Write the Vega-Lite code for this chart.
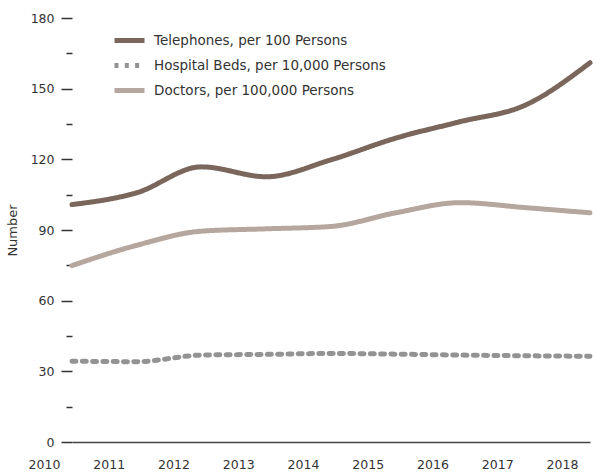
{
  "$schema": "https://vega.github.io/schema/vega-lite/v6.json",
  "width": 518,
  "height": 424,
  "autosize": "none",
  "padding": {"left": 72, "top": 18, "right": 6, "bottom": 34},
  "background": "white",
  "config": {
    "view": {"stroke": null},
    "font": "DejaVu Sans",
    "axis": {"labelFont": "DejaVu Sans", "titleFont": "DejaVu Sans", "labelColor": "#333333", "titleColor": "#333333"},
    "legend": {"labelFont": "DejaVu Sans"}
  },
  "data": {
    "values": [
      {"year": 2010, "series": "Telephones, per 100 Persons", "value": 100.8},
      {"year": 2011, "series": "Telephones, per 100 Persons", "value": 105.8},
      {"year": 2012, "series": "Telephones, per 100 Persons", "value": 116.8},
      {"year": 2013, "series": "Telephones, per 100 Persons", "value": 112.6},
      {"year": 2014, "series": "Telephones, per 100 Persons", "value": 119.8},
      {"year": 2015, "series": "Telephones, per 100 Persons", "value": 129},
      {"year": 2016, "series": "Telephones, per 100 Persons", "value": 136},
      {"year": 2017, "series": "Telephones, per 100 Persons", "value": 143},
      {"year": 2018, "series": "Telephones, per 100 Persons", "value": 161},
      {"year": 2010, "series": "Hospital Beds, per 10,000 Persons", "value": 34.3},
      {"year": 2011, "series": "Hospital Beds, per 10,000 Persons", "value": 34.1},
      {"year": 2012, "series": "Hospital Beds, per 10,000 Persons", "value": 36.9},
      {"year": 2013, "series": "Hospital Beds, per 10,000 Persons", "value": 37.2},
      {"year": 2014, "series": "Hospital Beds, per 10,000 Persons", "value": 37.6},
      {"year": 2015, "series": "Hospital Beds, per 10,000 Persons", "value": 37.3},
      {"year": 2016, "series": "Hospital Beds, per 10,000 Persons", "value": 36.9},
      {"year": 2017, "series": "Hospital Beds, per 10,000 Persons", "value": 36.6},
      {"year": 2018, "series": "Hospital Beds, per 10,000 Persons", "value": 36.4},
      {"year": 2010, "series": "Doctors, per 100,000 Persons", "value": 74.9},
      {"year": 2011, "series": "Doctors, per 100,000 Persons", "value": 83.5},
      {"year": 2012, "series": "Doctors, per 100,000 Persons", "value": 89.5},
      {"year": 2013, "series": "Doctors, per 100,000 Persons", "value": 90.5},
      {"year": 2014, "series": "Doctors, per 100,000 Persons", "value": 91.5},
      {"year": 2015, "series": "Doctors, per 100,000 Persons", "value": 97.3},
      {"year": 2016, "series": "Doctors, per 100,000 Persons", "value": 101.6},
      {"year": 2017, "series": "Doctors, per 100,000 Persons", "value": 99.5},
      {"year": 2018, "series": "Doctors, per 100,000 Persons", "value": 97.3}
    ]
  },
  "mark": {"type": "line", "interpolate": "monotone", "strokeWidth": 5, "strokeCap": "round"},
  "encoding": {
    "x": {
      "field": "year", "type": "quantitative",
      "scale": {"domain": [2010, 2018], "nice": false, "zero": false},
      "axis": {
        "title": null, "values": [2010, 2011, 2012, 2013, 2014, 2015, 2016, 2017, 2018],
        "format": "d", "grid": false, "ticks": false,
        "domainColor": "#444444", "domainWidth": 1.5,
        "labelFontSize": 12.5, "labelPadding": 16, "labelFlush": false, "labelOffset": -28, "labelBound": false
      }
    },
    "y": {
      "field": "value", "type": "quantitative",
      "scale": {"domain": [0, 180], "nice": false},
      "axis": {
        "title": "Number", "titleFontSize": 13, "titleFontWeight": "normal", "titlePadding": 11,
        "values": [0, 15, 30, 45, 60, 75, 90, 105, 120, 135, 150, 165, 180],
        "labelExpr": "datum.value % 30 === 0 ? datum.label : ''",
        "grid": false, "domain": false,
        "tickColor": "#333333", "tickWidth": 1.5,
        "tickSize": {"condition": {"test": "datum.value % 30 === 0", "value": 11}, "value": 6},
        "labelPadding": 7, "labelFontSize": 12.5
      }
    },
    "color": {
      "field": "series", "type": "nominal",
      "sort": ["Telephones, per 100 Persons", "Hospital Beds, per 10,000 Persons", "Doctors, per 100,000 Persons"],
      "scale": {
        "domain": ["Telephones, per 100 Persons", "Hospital Beds, per 10,000 Persons", "Doctors, per 100,000 Persons"],
        "range": ["#7b665c", "#939393", "#b6a79e"]
      },
      "legend": {
        "title": null, "orient": "none", "legendX": 43, "legendY": 8,
        "symbolType": "M-1.25,0H1.25", "symbolSize": 576, "symbolStrokeWidth": 5,
        "labelFontSize": 13.5, "labelColor": "#333333", "labelOffset": 10, "rowPadding": 0, "labelLimit": 400
      }
    },
    "strokeDash": {
      "field": "series", "type": "nominal",
      "sort": ["Telephones, per 100 Persons", "Hospital Beds, per 10,000 Persons", "Doctors, per 100,000 Persons"],
      "scale": {
        "domain": ["Telephones, per 100 Persons", "Hospital Beds, per 10,000 Persons", "Doctors, per 100,000 Persons"],
        "range": [[1, 0], [4, 6.3], [1, 0]]
      },
      "legend": {
        "title": null, "orient": "none", "legendX": 43, "legendY": 8,
        "symbolType": "M-1.25,0H1.25", "symbolSize": 576, "symbolStrokeWidth": 5,
        "labelFontSize": 13.5, "labelColor": "#333333", "labelOffset": 10, "rowPadding": 0, "labelLimit": 400
      }
    }
  }
}
